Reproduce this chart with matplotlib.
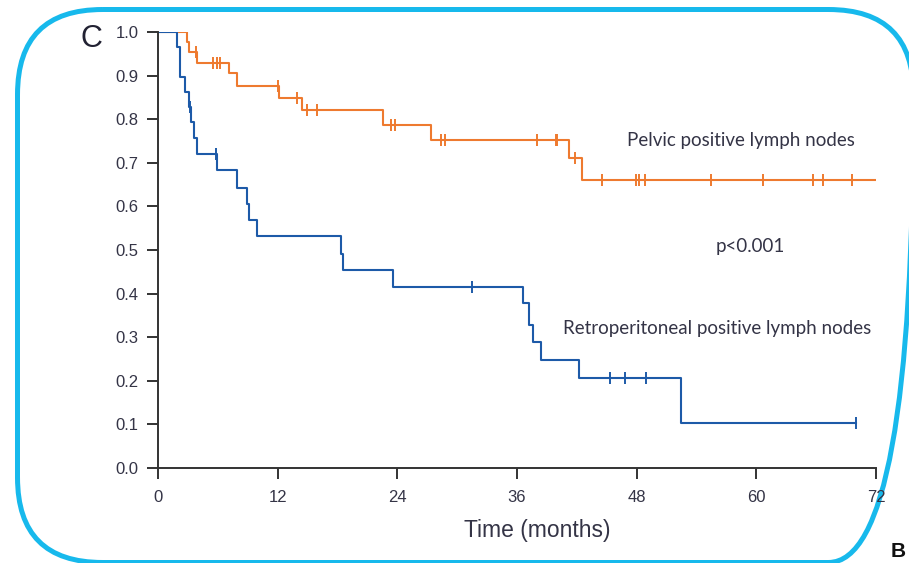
import numpy as np
import matplotlib.pyplot as plt
from matplotlib.patches import FancyBboxPatch

# Kaplan-Meier curves: event times (months) and survival after each step
pelvic_t = [0, 2.94, 3.14, 3.94, 7.15, 7.95, 12.17, 14.4, 22.6, 27.4, 41.25, 42.5]
pelvic_s = [1.0, 0.977, 0.953, 0.930, 0.905, 0.877, 0.848, 0.820, 0.787, 0.752, 0.710, 0.661]
pelvic_cens = [3.8, 5.55, 5.88, 6.22, 12.0, 13.9, 14.98, 15.9, 23.4, 23.8, 28.4, 28.8,
               38.0, 39.9, 40.0, 41.8, 44.5, 47.9, 48.2, 48.8, 55.5, 60.7, 65.7, 66.7, 69.6]
pelvic_end = 72

retro_t = [0, 1.9, 2.2, 2.75, 3.15, 3.35, 3.65, 3.95, 5.95, 7.95, 8.95, 9.15, 9.95,
           18.4, 18.6, 23.6, 36.6, 37.2, 37.6, 38.4, 42.25, 52.4]
retro_s = [1.0, 0.966, 0.897, 0.862, 0.827, 0.793, 0.758, 0.720, 0.683, 0.643, 0.605, 0.569, 0.531,
           0.490, 0.454, 0.416, 0.378, 0.328, 0.290, 0.248, 0.207, 0.103]
retro_cens = [3.2, 5.8, 31.5, 45.3, 46.8, 48.9, 70.0]
retro_end = 70.0

xticks = [0, 12, 24, 36, 48, 60, 72]
yticks = np.round(np.arange(0, 1.01, 0.1), 1)

orange = '#ee7a2f'
blue = '#1d5aa8'
txt = '#343446'

fig = plt.figure(figsize=(9.09, 5.63), dpi=100)

# rounded panel frame, drawn in pixel coordinates
bg = fig.add_axes([0, 0, 1, 1], zorder=-1)
bg.set_xlim(0, 909)
bg.set_ylim(563, 0)
bg.axis('off')
frame = FancyBboxPatch((17.5, 9.5), 896, 553, boxstyle='round,pad=0,rounding_size=85',
                       fill=False, edgecolor='#17b9ec', linewidth=3.6)
bg.add_patch(frame)
bg.text(891, 561, 'B', fontsize=15, fontweight='bold', color='#111111',
        family='Liberation Sans', va='bottom', ha='left')
bg.text(80, 47, 'C', fontsize=22, color='#222233', family='Liberation Sans',
        va='baseline', ha='left')

ax = fig.add_axes([158 / 909, 1 - 468 / 563, 718 / 909, 436 / 563])


def km(ax, t, s, cens, end, color):
    ax.step(list(t) + [end], list(s) + [s[-1]], where='post', color=color, lw=1.5)
    idx = np.searchsorted(t, cens, side='right') - 1
    ax.plot(cens, np.array(s)[idx], ls='none', marker='|', ms=8, mew=1.4, color=color)


km(ax, pelvic_t, pelvic_s, pelvic_cens, pelvic_end, orange)
km(ax, retro_t, retro_s, retro_cens, retro_end, blue)

ax.set_xlim(0, 72)
ax.set_ylim(0, 1.0)
ax.set_xticks(xticks)
ax.set_yticks(yticks)
ax.set_yticklabels([f'{v:.1f}' for v in yticks])
for sp in ['top', 'right']:
    ax.spines[sp].set_visible(False)
for sp in ['left', 'bottom']:
    ax.spines[sp].set_color('#333333')
    ax.spines[sp].set_linewidth(1.4)
ax.tick_params(direction='out', length=8, width=1.4, color='#333333',
               labelsize=12, labelcolor=txt, pad=6)
ax.tick_params(axis='x', pad=8)
for lab in ax.get_xticklabels() + ax.get_yticklabels():
    lab.set_family('Liberation Sans')

ax.set_xlabel('Time (months)', fontsize=16.5, family='Liberation Sans', color=txt)
ax.xaxis.set_label_coords((537 - 158) / 718, -0.118)

ax.text(47.0, 0.752, 'Pelvic positive lymph nodes', fontsize=13.5, family='Lato',
        color=txt, va='center')
ax.text(55.9, 0.507, 'p<0.001', fontsize=13.5, family='Lato', color=txt, va='center')
ax.text(40.6, 0.321, 'Retroperitoneal positive lymph nodes', fontsize=13.5, family='Lato',
        color=txt, va='center')

fig.savefig('out.png', dpi=100)
